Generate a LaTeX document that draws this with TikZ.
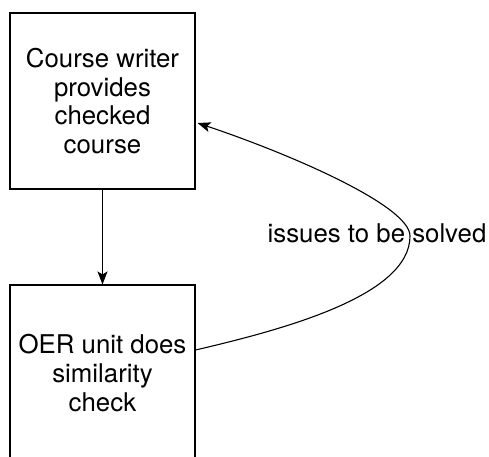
\documentclass[tikz,border=0pt]{standalone}
\usepackage{fontspec}
\setmainfont{TeX Gyre Heros}
\usetikzlibrary{arrows.meta}
\tikzset{
  stepbox/.style={draw=black, line width=1.1pt, minimum width=185pt, minimum height=176pt,
    inner sep=0pt, align=center, font=\fontsize{25.8}{28.8}\selectfont},
  flowarrow/.style={draw=black, line width=1.1pt, -{Stealth[length=13pt,width=10pt,inset=3pt]}},
  edgelabel/.style={font=\fontsize{25.8}{28.8}\selectfont, inner sep=0pt}
}
\begin{document}
\begin{tikzpicture}[x=1pt,y=1pt]
  \useasboundingbox (0,0) rectangle (489,-456);
  \clip (0,0) rectangle (489,-456);

  % the two process steps
  \node[stepbox] (writer) at (102.5,-101) {Course writer\\provides\\checked\\course};
  \node[stepbox] (oer) at (102.5,-373) {OER unit does\\similarity\\check};

  % forward flow
  \draw[flowarrow] (writer.south) -- (oer.north);

  % feedback loop back to the writer
  \coordinate (loopstart) at ([yshift=23pt]oer.east);
  \coordinate (loopend) at ([yshift=-22pt,xshift=2pt]writer.east);
  \draw[flowarrow] (loopstart)
     .. controls (282.7,-329.6) and (410,-296) .. (410,-236)
     .. controls (410,-206) and (291.9,-154.6) .. (loopend);

  \node[edgelabel, anchor=base] (issues) at (377,-242) {issues to be solved};
\end{tikzpicture}
\end{document}
